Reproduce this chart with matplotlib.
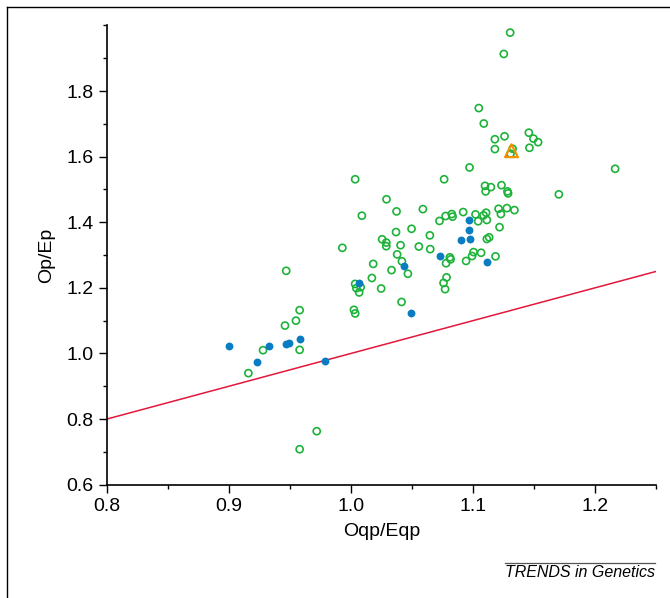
import matplotlib.pyplot as plt
from matplotlib.lines import Line2D
from matplotlib.ticker import MultipleLocator

plt.rcParams['font.family'] = ['Liberation Sans', 'DejaVu Sans']

# open green circles
green_x = [0.916, 0.928, 0.958, 0.946, 0.955, 0.958, 0.947, 0.972, 0.958, 1.0025,
           1.0035, 1.0035, 1.0045, 1.0068, 1.008, 0.993, 1.0035, 1.009, 1.0172, 1.0183,
           1.0248, 1.0256, 1.029, 1.029, 1.0292, 1.0333, 1.037, 1.0374, 1.0379, 1.0407,
           1.0415, 1.0418, 1.0467, 1.0497, 1.0557, 1.059, 1.0647, 1.065, 1.0726, 1.0759,
           1.0764, 1.0772, 1.0776, 1.078, 1.0784, 1.0811, 1.0817, 1.0827, 1.0833, 1.092,
           1.0944, 1.0972, 1.0993, 1.1005, 1.1021, 1.1043, 1.1048, 1.1067, 1.1087, 1.1089,
           1.1099, 1.1104, 1.1108, 1.1114, 1.1114, 1.1133, 1.1147, 1.118, 1.118, 1.1185,
           1.121, 1.1218, 1.1229, 1.1234, 1.1253, 1.1259, 1.1278, 1.1283, 1.1288, 1.1305,
           1.1308, 1.1325, 1.134, 1.1458, 1.1463, 1.1496, 1.1534, 1.1704, 1.2165]
green_y = [0.940, 1.010, 1.011, 1.085, 1.100, 1.132, 1.252, 0.763, 0.708, 1.133,
           1.122, 1.212, 1.199, 1.186, 1.202, 1.322, 1.531, 1.420, 1.230, 1.273,
           1.198, 1.348, 1.338, 1.327, 1.470, 1.254, 1.370, 1.433, 1.302, 1.330,
           1.157, 1.281, 1.243, 1.380, 1.326, 1.440, 1.360, 1.318, 1.404, 1.215,
           1.531, 1.196, 1.419, 1.275, 1.232, 1.293, 1.287, 1.425, 1.417, 1.431,
           1.282, 1.567, 1.297, 1.309, 1.424, 1.403, 1.748, 1.307, 1.421, 1.701,
           1.511, 1.494, 1.429, 1.407, 1.349, 1.354, 1.507, 1.653, 1.623, 1.296,
           1.441, 1.385, 1.425, 1.513, 1.913, 1.662, 1.443, 1.494, 1.488, 1.978,
           1.609, 1.624, 1.437, 1.673, 1.627, 1.655, 1.644, 1.485, 1.563]

# filled blue dots
blue_x = [0.900, 0.923, 0.933, 0.947, 0.949, 0.958, 0.979, 1.0068, 1.0436, 1.049,
          1.073, 1.090, 1.0967, 1.097, 1.098, 1.1115]
blue_y = [1.023, 0.975, 1.022, 1.029, 1.031, 1.043, 0.976, 1.214, 1.266, 1.123,
          1.298, 1.345, 1.407, 1.376, 1.350, 1.279]

# orange triangle
tri_x = [1.1316]
tri_y = [1.618]

# y = x reference line
line_x = [0.8, 1.25]

fig = plt.figure(figsize=(6.7, 5.98), dpi=100)
ax = fig.add_axes([0.1594, 0.1895, 0.8197, 0.768])

ax.plot(line_x, line_x, color='#e3173a', linewidth=1.1, zorder=1)
ax.scatter(green_x, green_y, s=26, facecolors='none', edgecolors='#1db33a',
           linewidths=1.2, zorder=2)
ax.scatter(blue_x, blue_y, s=32, color='#0a7cc1', linewidths=0, zorder=3)
ax.scatter(tri_x, tri_y, s=85, marker='^', facecolors='none', edgecolors='#f29100',
           linewidths=1.6, zorder=4)

ax.set_xlim(0.8, 1.25)
ax.set_ylim(0.6, 2.0)
ax.set_xticks([0.8, 0.9, 1.0, 1.1, 1.2])
ax.set_yticks([0.6, 0.8, 1.0, 1.2, 1.4, 1.6, 1.8])
ax.xaxis.set_minor_locator(MultipleLocator(0.05))
ax.yaxis.set_minor_locator(MultipleLocator(0.1))
ax.tick_params(which='major', length=6, width=1, labelsize=14, direction='out')
ax.tick_params(which='minor', length=3, width=1, direction='out')

ax.spines['top'].set_visible(False)
ax.spines['right'].set_visible(False)
ax.spines['left'].set_linewidth(1.2)
ax.spines['bottom'].set_linewidth(1.2)

ax.set_xlabel('Oqp/Eqp', fontsize=14, labelpad=6)
ax.set_ylabel('Op/Ep', fontsize=14, labelpad=8)

# footer and frame
fig.text(0.977, 0.042, 'TRENDS in Genetics', fontsize=11.5, style='italic',
         ha='right', va='center')
fig.add_artist(Line2D([0.754, 0.977], [0.059, 0.059], color='#555555', linewidth=0.9))
fig.add_artist(Line2D([0.0105, 1.0], [0.9885, 0.9885], color='black', linewidth=1))
fig.add_artist(Line2D([0.0105, 0.0105], [0.0, 0.9885], color='black', linewidth=1))

fig.savefig('out.png', dpi=100)
